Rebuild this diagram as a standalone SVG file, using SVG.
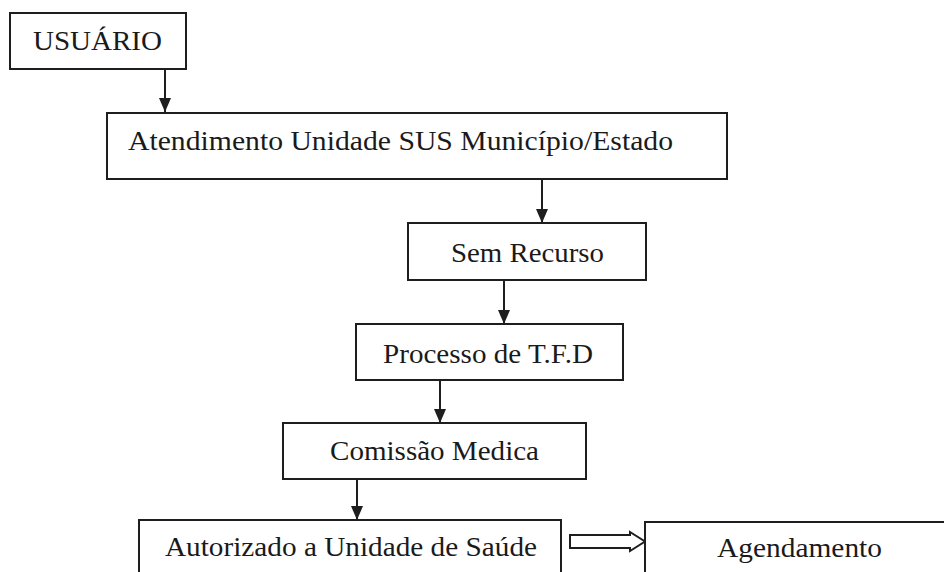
<svg xmlns="http://www.w3.org/2000/svg" width="944" height="572" viewBox="0 0 944 572">
<style>
.box{fill:#fff;stroke:#1e1e1e;stroke-width:2}
.t{font-family:"Liberation Serif","Times New Roman",serif;font-size:27.5px;fill:#1a1a1a}
.c{stroke:#1e1e1e;stroke-width:2;fill:none;marker-end:url(#ah)}
</style>
<defs>
<marker id="ah" viewBox="0 0 14 12" refX="14" refY="6" markerWidth="14" markerHeight="12" markerUnits="userSpaceOnUse" orient="auto">
<path d="M0,0 L14,6 L0,12 Z" fill="#1e1e1e"/>
</marker>
</defs>
<rect width="944" height="572" fill="#fff"/>
<g id="connectors">
<line class="c" x1="165" y1="69" x2="165" y2="112"/>
<line class="c" x1="542" y1="179" x2="542" y2="223"/>
<line class="c" x1="504" y1="280" x2="504" y2="324"/>
<line class="c" x1="440" y1="380" x2="440" y2="423"/>
<line class="c" x1="357" y1="479" x2="357" y2="520"/>
<polygon points="570,535 630,535 630,532 645,541.5 630,551 630,548 570,548" fill="#fff" stroke="#1e1e1e" stroke-width="2"/>
</g>
<g id="usuario">
<rect class="box" x="10" y="13" width="176" height="56"/>
<text class="t" x="33" y="50" textLength="129" lengthAdjust="spacingAndGlyphs">USUÁRIO</text>
</g>
<g id="atendimento">
<rect class="box" x="107" y="113" width="620" height="66"/>
<text class="t" x="128" y="150" textLength="545" lengthAdjust="spacingAndGlyphs">Atendimento Unidade SUS Município/Estado</text>
</g>
<g id="sem-recurso">
<rect class="box" x="408" y="223" width="238" height="57"/>
<text class="t" x="451" y="262" textLength="153" lengthAdjust="spacingAndGlyphs">Sem Recurso</text>
</g>
<g id="processo">
<rect class="box" x="356" y="324" width="267" height="56"/>
<text class="t" x="383" y="363" textLength="210" lengthAdjust="spacingAndGlyphs">Processo de T.F.D</text>
</g>
<g id="comissao">
<rect class="box" x="283" y="423" width="303" height="56"/>
<text class="t" x="330" y="460" textLength="209" lengthAdjust="spacingAndGlyphs">Comissão Medica</text>
</g>
<g id="autorizado">
<rect class="box" x="139" y="520" width="422" height="80"/>
<text class="t" x="165" y="556" textLength="372" lengthAdjust="spacingAndGlyphs">Autorizado a Unidade de Saúde</text>
</g>
<g id="agendamento">
<rect class="box" x="645" y="522" width="320" height="80"/>
<text class="t" x="717" y="557" textLength="165" lengthAdjust="spacingAndGlyphs">Agendamento</text>
</g>
</svg>
